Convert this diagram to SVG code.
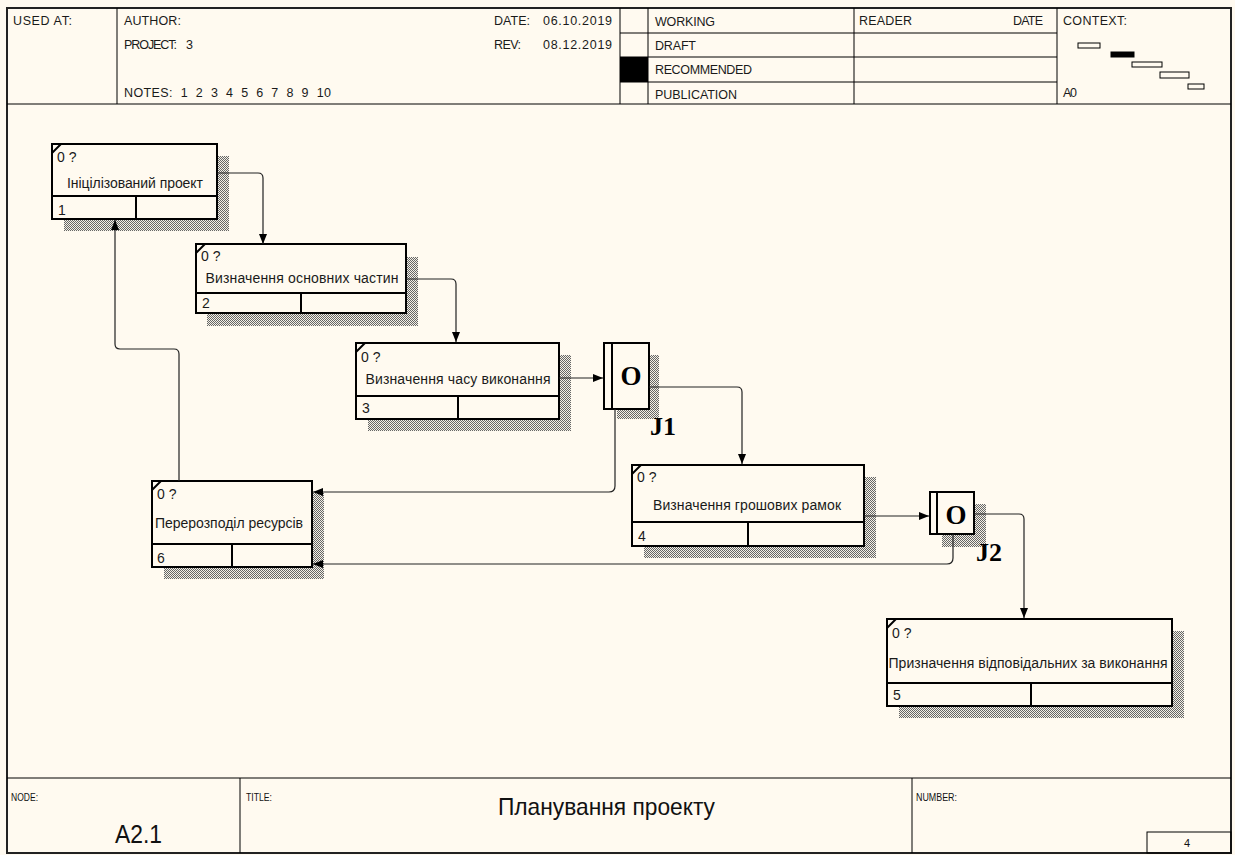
<svg xmlns="http://www.w3.org/2000/svg" width="1235" height="855" viewBox="0 0 1235 855">
<defs>
<pattern id="hatch" width="2" height="2" patternUnits="userSpaceOnUse">
<rect width="2" height="2" fill="#f4f0e6"/>
<rect width="1" height="1" fill="#666"/>
<rect x="1" y="1" width="1" height="1" fill="#666"/>
</pattern>
<marker id="ah" viewBox="0 0 10 8" refX="10" refY="4" markerWidth="10" markerHeight="8" orient="auto" markerUnits="userSpaceOnUse">
<path d="M0,0 L10,4 L0,8 z" fill="#000"/>
</marker>
</defs>
<style>
.t{font-family:"Liberation Sans",Arial,sans-serif;font-size:12.5px;fill:#1a1a1a}
.f{font-family:"Liberation Sans",Arial,sans-serif;fill:#111}
.bt{font-family:"Liberation Sans",Arial,sans-serif;font-size:14px;fill:#1a1a1a}
.box{fill:#fffaf0;stroke:#000;stroke-width:2}
.div{stroke:#000;stroke-width:2;fill:none}
.sh{fill:url(#hatch)}
.ln{stroke:#000;stroke-width:1;fill:none}
.cn{stroke:#222;stroke-width:1.2;fill:none;marker-end:url(#ah)}
.j{font-family:"Liberation Serif","Times New Roman",serif;font-weight:bold;font-size:27px;fill:#000}
.jl{font-family:"Liberation Serif","Times New Roman",serif;font-weight:bold;font-size:26px;fill:#000}
</style>
<rect x="0" y="0" width="1235" height="855" fill="#fffaf0"/>
<g id="frame">
<rect x="7" y="8" width="1224" height="845" fill="none" stroke="#222" stroke-width="2"/>
<line x1="7" y1="104" x2="1231" y2="104" class="ln" stroke-width="1.5"/>
<line x1="117" y1="8" x2="117" y2="104" class="ln"/>
<line x1="620" y1="8" x2="620" y2="104" class="ln"/>
<line x1="648" y1="8" x2="648" y2="104" class="ln"/>
<line x1="854" y1="8" x2="854" y2="104" class="ln"/>
<line x1="1057" y1="8" x2="1057" y2="104" class="ln"/>
<line x1="620" y1="33" x2="1057" y2="33" class="ln"/>
<line x1="620" y1="57" x2="1057" y2="57" class="ln"/>
<line x1="620" y1="82" x2="1057" y2="82" class="ln"/>
<rect x="620" y="57" width="28" height="25" fill="#000"/>
<text class="t" x="13" y="25" textLength="59">USED AT:</text>
<text class="t" x="124" y="25" textLength="57">AUTHOR:</text>
<text class="t" x="124" y="49" textLength="53">PROJECT:</text>
<text class="t" x="186" y="49">3</text>
<text class="t" x="124" y="97" style="white-space:pre" textLength="207">NOTES:  1  2  3  4  5  6  7  8  9  10</text>
<text class="t" x="494" y="25" textLength="36">DATE:</text>
<text class="t" x="543" y="25" textLength="69">06.10.2019</text>
<text class="t" x="494" y="49" textLength="27">REV:</text>
<text class="t" x="543" y="49" textLength="69">08.12.2019</text>
<text class="t" x="655" y="26" textLength="60">WORKING</text>
<text class="t" x="655" y="50" textLength="41">DRAFT</text>
<text class="t" x="655" y="74" textLength="97">RECOMMENDED</text>
<text class="t" x="655" y="99" textLength="82">PUBLICATION</text>
<text class="t" x="859" y="25" textLength="53">READER</text>
<text class="t" x="1013" y="25" textLength="30">DATE</text>
<text class="t" x="1063" y="25" textLength="64">CONTEXT:</text>
<text class="t" x="1063" y="97" textLength="14">A0</text>
<rect x="1078" y="43" width="22" height="5" fill="none" stroke="#000"/>
<rect x="1111" y="52" width="23" height="5" fill="#000" stroke="#000"/>
<rect x="1132" y="62" width="30" height="5" fill="none" stroke="#000"/>
<rect x="1160" y="72" width="29" height="6" fill="none" stroke="#000"/>
<rect x="1188" y="84" width="16" height="5" fill="none" stroke="#000"/>
<line x1="7" y1="778" x2="1231" y2="778" class="ln" stroke-width="1.5"/>
<line x1="240" y1="778" x2="240" y2="853" class="ln"/>
<line x1="912" y1="778" x2="912" y2="853" class="ln"/>
<rect x="1147" y="832" width="84" height="21" fill="none" stroke="#000"/>
<text class="f" x="11" y="801" font-size="11" textLength="27" lengthAdjust="spacingAndGlyphs">NODE:</text>
<text class="f" x="246" y="801" font-size="11" textLength="26" lengthAdjust="spacingAndGlyphs">TITLE:</text>
<text class="f" x="916" y="801" font-size="11" textLength="41" lengthAdjust="spacingAndGlyphs">NUMBER:</text>
<text class="f" x="498" y="815" font-size="24" textLength="217" lengthAdjust="spacingAndGlyphs">Планування проекту</text>
<text class="f" x="115" y="843" font-size="26" textLength="47" lengthAdjust="spacingAndGlyphs">A2.1</text>
<text class="f" x="1187" y="847" font-size="11" text-anchor="middle">4</text>
</g>
<g id="node1">
<rect class="sh" x="64" y="156" width="165" height="75"/>
<rect class="box" x="52" y="144" width="165" height="75"/>
<line class="div" x1="52" y1="196" x2="217" y2="196"/>
<line class="div" x1="136" y1="196" x2="136" y2="219"/>
<line class="div" x1="52" y1="153" x2="61" y2="144"/>
<text class="bt" x="57" y="162">0 ?</text>
<text class="bt" x="135" y="188" text-anchor="middle" textLength="136">Ініцілізований проект</text>
<text class="bt" x="58" y="215">1</text>
</g>
<g id="node2">
<rect class="sh" x="207" y="257" width="211" height="69"/>
<rect class="box" x="196" y="244" width="210" height="69"/>
<line class="div" x1="196" y1="293" x2="406" y2="293"/>
<line class="div" x1="301" y1="293" x2="301" y2="313"/>
<line class="div" x1="196" y1="253" x2="205" y2="244"/>
<text class="bt" x="201" y="261">0 ?</text>
<text class="bt" x="302" y="283" text-anchor="middle" textLength="193">Визначення основних частин</text>
<text class="bt" x="202" y="308">2</text>
</g>
<g id="node3">
<rect class="sh" x="368" y="355" width="203" height="76"/>
<rect class="box" x="356" y="343" width="203" height="76"/>
<line class="div" x1="356" y1="396" x2="559" y2="396"/>
<line class="div" x1="458" y1="396" x2="458" y2="419"/>
<line class="div" x1="356" y1="352" x2="365" y2="343"/>
<text class="bt" x="361" y="362">0 ?</text>
<text class="bt" x="458" y="384" text-anchor="middle" textLength="185">Визначення часу виконання</text>
<text class="bt" x="362" y="413">3</text>
</g>
<g id="J1">
<rect class="sh" x="617" y="355" width="42" height="64"/>
<rect class="box" x="604" y="343" width="45" height="66"/>
<line class="div" x1="612" y1="343" x2="612" y2="409"/>
<text class="j" x="631" y="385" text-anchor="middle">O</text>
<text class="jl" x="650" y="435">J1</text>
</g>
<g id="node4">
<rect class="sh" x="644" y="477" width="232" height="81"/>
<rect class="box" x="632" y="465" width="232" height="81"/>
<line class="div" x1="632" y1="522" x2="864" y2="522"/>
<line class="div" x1="748" y1="522" x2="748" y2="546"/>
<line class="div" x1="632" y1="474" x2="641" y2="465"/>
<text class="bt" x="637" y="482">0 ?</text>
<text class="bt" x="747" y="510" text-anchor="middle" textLength="188">Визначення грошових рамок</text>
<text class="bt" x="638" y="541">4</text>
</g>
<g id="J2">
<rect class="sh" x="942" y="504" width="44" height="43"/>
<rect class="box" x="930" y="492" width="44" height="42"/>
<line class="div" x1="937" y1="492" x2="937" y2="534"/>
<text class="j" x="956" y="524" text-anchor="middle" font-size="25">O</text>
<text class="jl" x="976" y="561" font-size="24">J2</text>
</g>
<g id="node6">
<rect class="sh" x="164" y="493" width="160" height="86"/>
<rect class="box" x="152" y="481" width="160" height="86"/>
<line class="div" x1="152" y1="544" x2="312" y2="544"/>
<line class="div" x1="232" y1="544" x2="232" y2="567"/>
<line class="div" x1="152" y1="490" x2="161" y2="481"/>
<text class="bt" x="157" y="499">0 ?</text>
<text class="bt" x="229" y="528" text-anchor="middle" textLength="148">Перерозподіл ресурсів</text>
<text class="bt" x="157" y="563">6</text>
</g>
<g id="node5">
<rect class="sh" x="899" y="631" width="285" height="87"/>
<rect class="box" x="887" y="619" width="285" height="87"/>
<line class="div" x1="887" y1="683" x2="1172" y2="683"/>
<line class="div" x1="1031" y1="683" x2="1031" y2="706"/>
<line class="div" x1="887" y1="628" x2="896" y2="619"/>
<text class="bt" x="892" y="638">0 ?</text>
<text class="bt" x="1028" y="668" text-anchor="middle" textLength="279">Призначення відповідальних за виконання</text>
<text class="bt" x="893" y="700">5</text>
</g>
<g id="connectors">
<path class="cn" d="M217,173 H258 Q263,173 263,178 V244"/>
<path class="cn" d="M406,279 H451 Q456,279 456,284 V342"/>
<path class="cn" d="M559,378 H603"/>
<path class="cn" d="M649,387 H737 Q742,387 742,392 V464"/>
<path class="cn" d="M615,409 V486 Q615,492 609,492 H313"/>
<path class="cn" d="M864,516 H929"/>
<path class="cn" d="M974,514 H1019 Q1024,514 1024,519 V618"/>
<path class="cn" d="M953,534 V558 Q953,564 947,564 H313"/>
<path class="cn" d="M179,481 V354 Q179,349 174,349 H120 Q115,349 115,344 V220"/>
</g>
</svg>
